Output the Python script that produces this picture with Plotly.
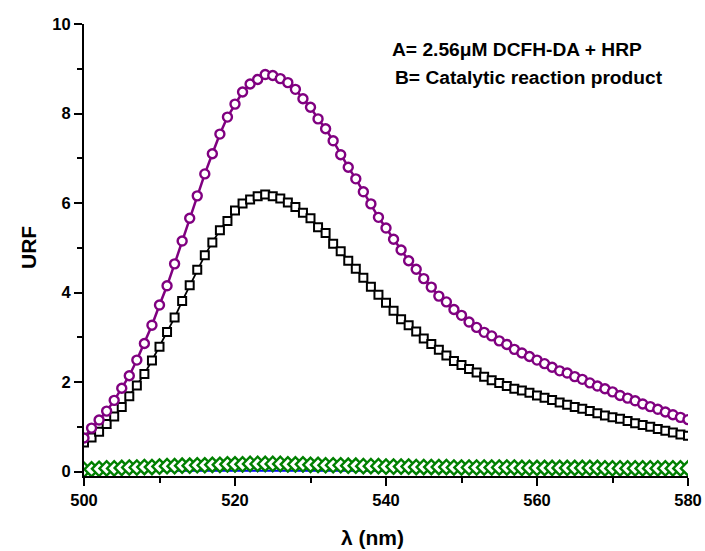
import plotly.graph_objects as go

# wavelength axis, 1 nm steps
wavelength = list(range(500, 581))

# A = 2.56uM DCFH-DA + HRP (purple circles)
urf_a = [0.75, 0.97, 1.15, 1.35, 1.59, 1.86, 2.14, 2.49, 2.86, 3.27,
         3.72, 4.15, 4.64, 5.15, 5.66, 6.16, 6.65, 7.10, 7.54, 7.92,
         8.21, 8.48, 8.66, 8.76, 8.87, 8.85, 8.78, 8.69, 8.54, 8.33,
         8.14, 7.88, 7.66, 7.39, 7.08, 6.80, 6.54, 6.25, 5.98, 5.68,
         5.44, 5.19, 4.95, 4.71, 4.52, 4.31, 4.12, 3.92, 3.79, 3.62,
         3.49, 3.34, 3.22, 3.11, 3.03, 2.92, 2.84, 2.73, 2.65, 2.57,
         2.49, 2.41, 2.33, 2.25, 2.20, 2.12, 2.06, 1.98, 1.91, 1.85,
         1.78, 1.70, 1.64, 1.58, 1.51, 1.45, 1.39, 1.33, 1.27, 1.21,
         1.16]

# B = catalytic reaction product (black squares)
urf_b = [0.65, 0.76, 0.89, 1.06, 1.23, 1.44, 1.68, 1.92, 2.18, 2.48,
         2.79, 3.12, 3.44, 3.81, 4.16, 4.51, 4.83, 5.12, 5.39, 5.60,
         5.83, 5.99, 6.08, 6.15, 6.19, 6.15, 6.10, 6.01, 5.91, 5.78,
         5.66, 5.46, 5.33, 5.09, 4.92, 4.71, 4.53, 4.33, 4.13, 3.95,
         3.77, 3.59, 3.40, 3.27, 3.13, 2.97, 2.85, 2.72, 2.59, 2.47,
         2.38, 2.29, 2.21, 2.12, 2.04, 1.98, 1.91, 1.85, 1.81, 1.76,
         1.70, 1.65, 1.60, 1.54, 1.49, 1.44, 1.40, 1.35, 1.30, 1.25,
         1.21, 1.18, 1.13, 1.08, 1.04, 1.00, 0.95, 0.91, 0.87, 0.83,
         0.80]

# blank (blue triangles)
urf_blue = [0.00, 0.00, 0.00, 0.01, 0.01, 0.01, 0.01, 0.01, 0.02, 0.02,
            0.02, 0.02, 0.02, 0.02, 0.03, 0.03, 0.03, 0.03, 0.03, 0.03,
            0.03, 0.03, 0.03, 0.03, 0.03, 0.03, 0.03, 0.03, 0.03, 0.03,
            0.03, 0.03, 0.03, 0.03, 0.02, 0.02, 0.02, 0.02, 0.02, 0.02,
            0.02, 0.02, 0.02, 0.02, 0.02, 0.02, 0.02, 0.02, 0.02, 0.02,
            0.02, 0.02, 0.02, 0.02, 0.02, 0.02, 0.01, 0.01, 0.01, 0.01,
            0.01, 0.01, 0.01, 0.01, 0.01, 0.01, 0.01, 0.01, 0.01, 0.01,
            0.01, 0.01, 0.01, 0.01, 0.01, 0.01, 0.01, 0.01, 0.01, 0.01,
            0.01]

# control (green diamonds)
urf_green = [0.04, 0.05, 0.06, 0.07, 0.07, 0.08, 0.09, 0.09, 0.10, 0.10,
             0.11, 0.12, 0.12, 0.13, 0.13, 0.14, 0.14, 0.15, 0.15, 0.16,
             0.16, 0.16, 0.17, 0.17, 0.17, 0.17, 0.17, 0.16, 0.16, 0.16,
             0.15, 0.15, 0.14, 0.14, 0.14, 0.13, 0.13, 0.12, 0.12, 0.12,
             0.11, 0.11, 0.11, 0.11, 0.10, 0.10, 0.10, 0.10, 0.10, 0.09,
             0.09, 0.09, 0.09, 0.09, 0.09, 0.09, 0.09, 0.09, 0.08, 0.08,
             0.08, 0.08, 0.08, 0.08, 0.08, 0.08, 0.08, 0.08, 0.08, 0.07,
             0.07, 0.07, 0.07, 0.07, 0.07, 0.07, 0.07, 0.07, 0.07, 0.07,
             0.07]

x_ticks = [500, 520, 540, 560, 580]
y_ticks = [0, 2, 4, 6, 8, 10]

fig = go.Figure()

fig.add_trace(go.Scatter(
    x=wavelength, y=urf_blue, mode="lines+markers",
    line=dict(color="#0000ff", width=2),
    marker=dict(symbol="triangle-down", size=5, color="#0000ff")))

fig.add_trace(go.Scatter(
    x=wavelength, y=urf_green, mode="lines+markers",
    line=dict(color="#008000", width=1),
    marker=dict(symbol="diamond", size=11, color="white",
                line=dict(width=2.4, color="#008000"))))

fig.add_trace(go.Scatter(
    x=wavelength, y=urf_b, mode="lines+markers",
    line=dict(color="black", width=1.8),
    marker=dict(symbol="square", size=8, color="white",
                line=dict(width=2, color="black"))))

fig.add_trace(go.Scatter(
    x=wavelength, y=urf_a, mode="lines+markers",
    line=dict(color="#800080", width=2.5),
    marker=dict(symbol="circle", size=9, color="white",
                line=dict(width=2.4, color="#800080"))))

font_b = "Liberation Sans"

# page body margin is removed in post_script, so window pixels = figure pixels
W, H = 705, 551
L, R, T, B = 84, 17, 24, 75
pw, ph = W - L - R, H - T - B


def px_x(x):
    # window pixel -> paper fraction
    return (x - L) / pw


def px_y(y):
    return (H - B - y) / ph


fig.add_annotation(x=px_x(390), y=px_y(49), xref="paper", yref="paper",
                   text="<b>A= 2.56\u03bcM DCFH-DA + HRP</b>", showarrow=False,
                   xanchor="left", yanchor="middle",
                   font=dict(family=font_b, size=19.2, color="black"))
fig.add_annotation(x=px_x(393), y=px_y(78), xref="paper", yref="paper",
                   text="<b>B= Catalytic reaction product</b>", showarrow=False,
                   xanchor="left", yanchor="middle",
                   font=dict(family=font_b, size=19.2, color="black"))

fig.add_annotation(x=px_x(28), y=px_y(248), xref="paper", yref="paper",
                   text="<b>URF</b>", showarrow=False, textangle=-90,
                   xanchor="center", yanchor="middle",
                   font=dict(family=font_b, size=21, color="black"))
fig.add_annotation(x=px_x(372), y=px_y(537), xref="paper", yref="paper",
                   text="<b>\u03bb (nm)</b>", showarrow=False,
                   xanchor="center", yanchor="middle",
                   font=dict(family=font_b, size=21, color="black"))

fig.update_layout(
    width=W, height=H,
    margin=dict(l=L, r=R, t=T, b=B),
    paper_bgcolor="white", plot_bgcolor="white",
    showlegend=False,
    font=dict(family=font_b, color="black"),
    xaxis=dict(
        range=[500, 580], tickvals=x_ticks,
        ticktext=["<b>%d</b>" % v for v in x_ticks],
        ticks="outside", ticklen=8, tickwidth=2, tickcolor="black",
        minor=dict(ticks="outside", ticklen=5, tickwidth=2, tickcolor="black",
                   tickvals=[510, 530, 550, 570]),
        showline=True, linewidth=2, linecolor="black",
        showgrid=False, zeroline=False, automargin=False,
        ticklabeloverflow="allow",
        tickfont=dict(family=font_b, size=16.5, color="black")),
    yaxis=dict(
        range=[-0.1, 10], tickvals=y_ticks,
        ticktext=["<b>%d</b>" % v for v in y_ticks],
        ticks="outside", ticklen=8, tickwidth=2, tickcolor="black",
        minor=dict(ticks="outside", ticklen=5, tickwidth=2, tickcolor="black",
                   tickvals=[1, 3, 5, 7, 9]),
        showline=True, linewidth=2, linecolor="black",
        showgrid=False, zeroline=False, automargin=False,
        tickfont=dict(family=font_b, size=16.5, color="black")),
)

fig.write_html("out.html",
               config={"displayModeBar": False},
               post_script="document.body.style.margin='0px';"
                           "document.body.style.overflow='hidden';")
